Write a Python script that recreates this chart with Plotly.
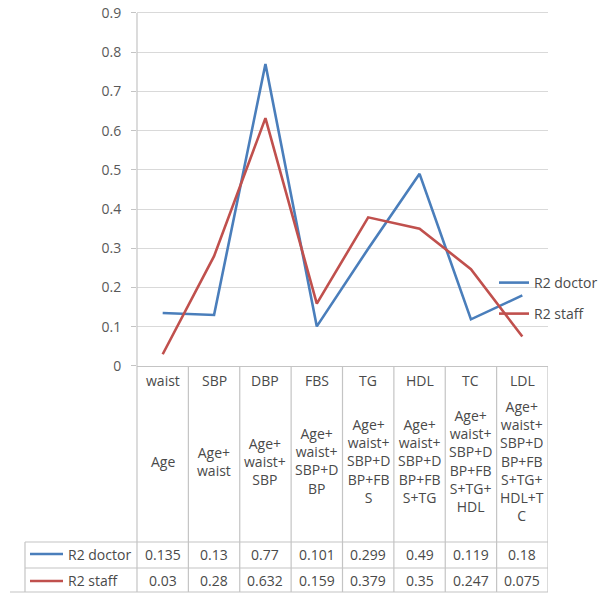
import plotly.graph_objects as go

categories = ["waist", "SBP", "DBP", "FBS", "TG", "HDL", "TC", "LDL"]
predictors = [
    ["Age"],
    ["Age+", "waist"],
    ["Age+", "waist+", "SBP"],
    ["Age+", "waist+", "SBP+D", "BP"],
    ["Age+", "waist+", "SBP+D", "BP+FB", "S"],
    ["Age+", "waist+", "SBP+D", "BP+FB", "S+TG"],
    ["Age+", "waist+", "SBP+D", "BP+FB", "S+TG+", "HDL"],
    ["Age+", "waist+", "SBP+D", "BP+FB", "S+TG+", "HDL+T", "C"],
]
r2_doctor = [0.135, 0.13, 0.77, 0.101, 0.299, 0.49, 0.119, 0.18]
r2_staff = [0.03, 0.28, 0.632, 0.159, 0.379, 0.35, 0.247, 0.075]
series_names = ["R2 doctor", "R2 staff"]
y_tick_vals = [0, 0.1, 0.2, 0.3, 0.4, 0.5, 0.6, 0.7, 0.8, 0.9]
y_tick_text = ["0", "0.1", "0.2", "0.3", "0.4", "0.5", "0.6", "0.7", "0.8", "0.9"]

# page is 612x594; the html body has an 8px margin, so the figure is 604x586
OFF = 8
W, H = 612 - OFF, 594 - OFF
BLUE = "#4A7EBB"
RED = "#C0504D"
GRID = "#d9d9d9"
BORDER = "#c4c4c4"
TXT = "#4a4a4a"
FONT = "Open Sans"


def px(x):
    return (x - OFF) / W


def py(y):
    return 1 - (y - OFF) / H


# plot area: y=0 at 366px, y=0.9 at 13px; range extended slightly so 0.9 grid is drawn
Y_TOP = 0.905
PLOT_L, PLOT_R, PLOT_B = 137, 548, 366
PX_PER_UNIT = (366 - 13) / 0.9
PLOT_T = 366 - Y_TOP * PX_PER_UNIT

fig = go.Figure()
fig.add_trace(go.Scatter(x=categories, y=r2_doctor, mode="lines", name=series_names[0],
                         line=dict(color=BLUE, width=2.6), legend="legend"))
fig.add_trace(go.Scatter(x=categories, y=r2_staff, mode="lines", name=series_names[1],
                         line=dict(color=RED, width=2.6), legend="legend2"))

shapes = []
shapes.append(dict(type="line", xref="paper", yref="paper", x0=px(PLOT_L), x1=px(PLOT_L),
                   y0=py(13), y1=py(592), line=dict(color=BORDER, width=1.2)))
for k in range(1, len(categories) + 1):
    shapes.append(dict(type="line", xref="x", yref="paper", x0=k - 0.5, x1=k - 0.5,
                       y0=py(PLOT_B), y1=py(592), line=dict(color=BORDER, width=1.2)))
for yy, x0 in [(542, 25), (568, 25), (592, 10)]:
    shapes.append(dict(type="line", xref="paper", yref="paper", x0=px(x0), x1=px(PLOT_R),
                       y0=py(yy), y1=py(yy), line=dict(color=BORDER, width=1.2)))
shapes.append(dict(type="line", xref="paper", yref="paper", x0=px(25), x1=px(25),
                   y0=py(542), y1=py(592), line=dict(color=BORDER, width=1.2)))
for yy, col in [(554, BLUE), (581, RED)]:
    shapes.append(dict(type="line", xref="paper", yref="paper", x0=px(30), x1=px(63),
                       y0=py(yy), y1=py(yy), line=dict(color=col, width=2.6)))

tfont = dict(family=FONT, size=14, color=TXT)
annotations = []
for i, c in enumerate(categories):
    annotations.append(dict(x=i, y=py(380), xref="x", yref="paper", text=c, showarrow=False,
                            font=tfont, xanchor="center", yanchor="middle"))
    annotations.append(dict(x=i, y=py(461), xref="x", yref="paper", text="<br>".join(predictors[i]),
                            showarrow=False, font=tfont, xanchor="center", yanchor="middle"))
    annotations.append(dict(x=i, y=py(554), xref="x", yref="paper", text=str(r2_doctor[i]), showarrow=False,
                            font=tfont, xanchor="center", yanchor="middle"))
    annotations.append(dict(x=i, y=py(580), xref="x", yref="paper", text=str(r2_staff[i]), showarrow=False,
                            font=tfont, xanchor="center", yanchor="middle"))
for yy, nm in [(554, series_names[0]), (580, series_names[1])]:
    annotations.append(dict(x=px(66), y=py(yy), xref="paper", yref="paper", text=nm, showarrow=False,
                            font=tfont, xanchor="left", yanchor="middle"))

legend_common = dict(xanchor="left", yanchor="middle", bgcolor="rgba(0,0,0,0)",
                     font=tfont, itemwidth=30, borderwidth=0, tracegroupgap=0)

fig.update_layout(
    width=W, height=H,
    margin=dict(l=0, r=0, t=0, b=0),
    paper_bgcolor="white", plot_bgcolor="white",
    showlegend=True,
    legend=dict(x=px(494), y=py(283), **legend_common),
    legend2=dict(x=px(494), y=py(314), **legend_common),
    xaxis=dict(domain=[px(PLOT_L), px(PLOT_R)], type="category", categoryarray=categories,
               range=[-0.5, len(categories) - 0.5], showticklabels=False, showgrid=False,
               zeroline=False, showline=True, linecolor=BORDER, linewidth=1.2, ticks="",
               automargin=False),
    yaxis=dict(domain=[py(PLOT_B), py(PLOT_T)], range=[0, Y_TOP], tickvals=y_tick_vals,
               ticktext=y_tick_text, showgrid=True, gridcolor=GRID, gridwidth=1.2,
               zeroline=False, showline=False, ticks="outside", ticklen=5, tickcolor=BORDER,
               tickfont=dict(family=FONT, size=14, color="#595959"), ticklabelstandoff=7,
               ticklabeloverflow="allow", automargin=False),
    shapes=shapes,
    annotations=annotations,
)

fig.write_html("out.html")
